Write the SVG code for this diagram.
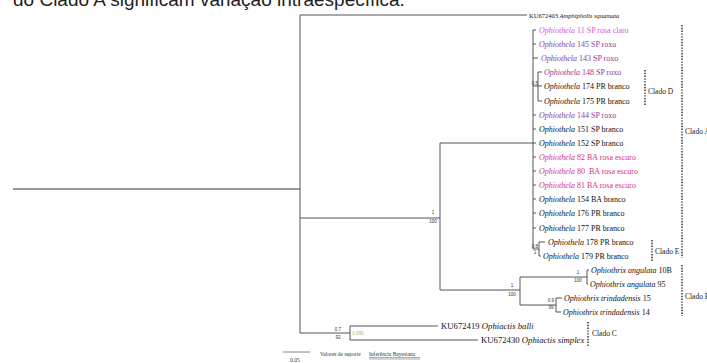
<svg xmlns="http://www.w3.org/2000/svg" width="707" height="363" viewBox="0 0 707 363">
<style>
.hdr{font-family:"Liberation Sans",Arial,sans-serif;font-size:19px;fill:#222}
.lf{font-family:"Liberation Serif","Times New Roman",serif;font-size:8px;fill:#111}
.lf .i,.it{font-style:italic}
.pk{fill:#e052d6}
.pu{fill:#8c3a98}
.rs{fill:#d8307c}
.br{stroke:#555;stroke-width:1;fill:none}
.rt{stroke:#777;stroke-width:1.3;fill:none}
.dot{stroke:#333;stroke-width:1.5;stroke-dasharray:1.4 1.4;fill:none}
.cl{font-family:"Liberation Serif","Times New Roman",serif;font-size:7.5px;fill:#222}
.sv{font-family:"Liberation Sans",Arial,sans-serif;font-size:4.5px;fill:#333;text-anchor:middle}
.lg{font-family:"Liberation Serif","Times New Roman",serif;font-size:5.5px;fill:#333}
</style>
<text class="hdr" x="13" y="6">do Clado A significam variação intraespecífica.</text>

<g id="connectors">
<path class="rt" d="M13,189 H300"/>
<path class="br" d="M300,15 V333 M300,15 H527 M300,218 H440 M300,333 H350"/>
<path class="br" d="M440,143 V290 M440,143 H533"/>
<path class="br" d="M533,30 V249"/>
<path class="br" d="M533,30 H536 M533,44 H536 M533,58 H538 M533,86 H538 M538,72 V101 M538,72 H542 M538,86 H542 M538,101 H542 M533,115 H536 M533,129 H536 M533,143 H536 M533,157 H536 M533,171 H536 M533,185 H536 M533,199 H536 M533,213 H536 M533,228 H536"/>
<path class="br" d="M533,249 H539 M539,242 V256 M539,242 H545 M539,256 H541"/>
<path class="br" d="M440,290 H520 M520,277 V305 M520,277 H587 M587,270 V284 M587,270 H589 M587,284 H588 M520,305 H556 M556,298 V312 M556,298 H562 M556,312 H561"/>
<path class="br" d="M350,326 V340 M350,326 H438 M350,340 H478"/>
</g>

<g id="support">
<text class="sv" x="433" y="214">1</text><text class="sv" x="433" y="223">100</text>
<text class="sv" x="512" y="287">1</text><text class="sv" x="512" y="296">100</text>
<text class="sv" x="578" y="274">1</text><text class="sv" x="578" y="282">100</text>
<text class="sv" x="551" y="302">0.9</text><text class="sv" x="551" y="309">99</text>
<text class="sv" x="338" y="331">0.7</text><text class="sv" x="338" y="339">92</text>
<text class="sv" x="535" y="85">0.5</text>
<text class="sv" x="535" y="248">0.8</text><text class="sv" x="535" y="254">1</text>
<text class="sv" x="358" y="335" style="fill:#b5b56a">0.999</text>
</g>

<g id="n-amphipholis"><text class="lf" x="529" y="17.5" style="font-size:6.5px">KU672403 <tspan class="i">Amphipholis squamata</tspan></text></g>
<g id="n-11"><text class="lf pk" x="539" y="32.5"><tspan class="i">Ophiothela</tspan> 11 SP rosa claro</text></g>
<g id="n-145"><text class="lf pu" x="539" y="46.5"><tspan class="i">Ophiothela</tspan> 145 SP roxo</text></g>
<g id="n-143"><text class="lf pu" x="541" y="60.5"><tspan class="i">Ophiothela</tspan> 143 SP roxo</text></g>
<g id="n-148"><text class="lf pu" x="544" y="74.5"><tspan class="i">Ophiothela</tspan> 148 SP roxo</text></g>
<g id="n-174"><text class="lf" x="544" y="88.5"><tspan class="i">Ophiothela</tspan> 174 PR branco</text></g>
<g id="n-175"><text class="lf" x="544" y="103.5"><tspan class="i">Ophiothela</tspan> 175 PR branco</text></g>
<g id="n-144"><text class="lf pu" x="539" y="117.5"><tspan class="i">Ophiothela</tspan> 144 SP roxo</text></g>
<g id="n-151"><text class="lf" x="539" y="131.5"><tspan class="i">Ophiothela</tspan> 151 SP branco</text></g>
<g id="n-152"><text class="lf" x="539" y="145.5"><tspan class="i">Ophiothela</tspan> 152 SP branco</text></g>
<g id="n-82"><text class="lf rs" x="539" y="159.5"><tspan class="i">Ophiothela</tspan> 82 BA rosa escuro</text></g>
<g id="n-80"><text class="lf rs" x="539" y="173.5" xml:space="preserve"><tspan class="i">Ophiothela</tspan> 80  BA rosa escuro</text></g>
<g id="n-81"><text class="lf rs" x="539" y="187.5"><tspan class="i">Ophiothela</tspan> 81 BA rosa escuro</text></g>
<g id="n-154"><text class="lf" x="539" y="201.5"><tspan class="i">Ophiothela</tspan> 154 BA branco</text></g>
<g id="n-176"><text class="lf" x="539" y="215.5"><tspan class="i">Ophiothela</tspan> 176 PR branco</text></g>
<g id="n-177"><text class="lf" x="539" y="230.5"><tspan class="i">Ophiothela</tspan> 177 PR branco</text></g>
<g id="n-178"><text class="lf" x="548" y="244.5"><tspan class="i">Ophiothela</tspan> 178 PR branco</text></g>
<g id="n-179"><text class="lf" x="543" y="258.5"><tspan class="i">Ophiothela</tspan> 179 PR branco</text></g>
<g id="n-10B"><text class="lf" x="591" y="272.5"><tspan class="i">Ophiothrix angulata</tspan> 10B</text></g>
<g id="n-95"><text class="lf" x="590" y="286.5"><tspan class="i">Ophiothrix angulata</tspan> 95</text></g>
<g id="n-t15"><text class="lf" x="564" y="300.5"><tspan class="i">Ophiothrix trindadensis</tspan> 15</text></g>
<g id="n-t14"><text class="lf" x="563" y="314.5"><tspan class="i">Ophiothrix trindadensis</tspan> 14</text></g>
<g id="n-balli"><text class="lf" x="441" y="329" style="font-size:8.7px">KU672419 <tspan class="i">Ophiactis balli</tspan></text></g>
<g id="n-simplex"><text class="lf" x="481" y="343" style="font-size:8.7px">KU672430 <tspan class="i">Ophiactis simplex</tspan></text></g>

<g id="clades">
<path class="dot" d="M645,70 V106"/><text class="cl" x="648" y="94">Clado D</text>
<path class="dot" d="M682,25 V258"/><text class="cl" x="685" y="134">Clado A</text>
<path class="dot" d="M652,240 V261"/><text class="cl" x="655" y="254">Clado E</text>
<path class="dot" d="M682,265 V316"/><text class="cl" x="685" y="299">Clado B</text>
<path class="dot" d="M588,322 V346"/><text class="cl" x="592" y="336">Clado C</text>
</g>

<g id="legend">
<path stroke="#666" stroke-width="0.8" d="M283,352 H310"/>
<text class="lg" x="290" y="362">0.05</text>
<text class="lg" x="320" y="356">Valores de suporte</text>
<text class="lg" x="369" y="356">Inferência Bayesiana</text>
<path stroke="#555" stroke-width="0.5" d="M369,357.5 H420 M369,359 H420"/>
</g>
</svg>
